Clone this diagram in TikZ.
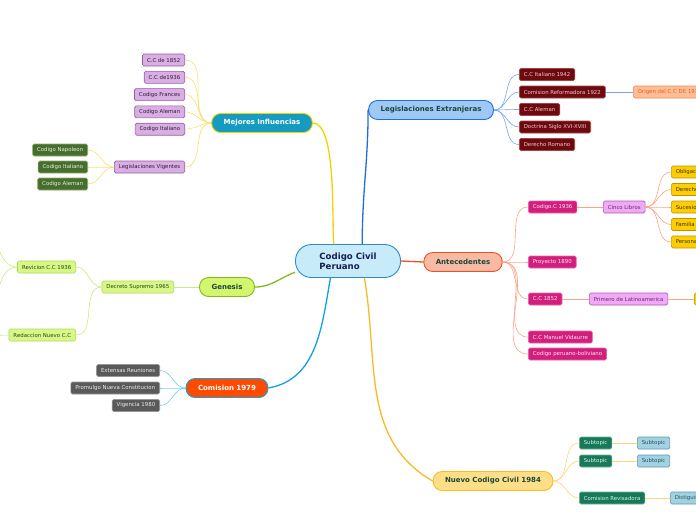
\documentclass[tikz,border=0pt]{standalone}
\usepackage{fontspec}
\setmainfont{DejaVu Sans}
\usetikzlibrary{positioning}
% colours of the topics
\definecolor{cus-center}{RGB}{200, 235, 250}
\definecolor{cus-center-d}{RGB}{40, 140, 210}
\definecolor{cus-navy}{RGB}{20, 30, 80}
\definecolor{cus-dark}{RGB}{25, 70, 60}
\definecolor{cus-mej}{RGB}{22, 155, 192}
\definecolor{cus-mej-d}{RGB}{240, 210, 0}
\definecolor{cus-mej-l}{RGB}{245, 225, 110}
\definecolor{cus-leg}{RGB}{160, 200, 245}
\definecolor{cus-leg-d}{RGB}{30, 110, 220}
\definecolor{cus-leg-l}{RGB}{120, 165, 235}
\definecolor{cus-ant}{RGB}{248, 185, 165}
\definecolor{cus-ant-d}{RGB}{240, 80, 30}
\definecolor{cus-ant-l}{RGB}{250, 165, 135}
\definecolor{cus-nue}{RGB}{255, 222, 135}
\definecolor{cus-nue-d}{RGB}{250, 185, 40}
\definecolor{cus-nue-l}{RGB}{255, 212, 125}
\definecolor{cus-com}{RGB}{255, 75, 0}
\definecolor{cus-com-d}{RGB}{20, 160, 225}
\definecolor{cus-com-l}{RGB}{120, 205, 245}
\definecolor{cus-gen}{RGB}{212, 245, 110}
\definecolor{cus-gen-d}{RGB}{130, 185, 30}
\definecolor{cus-gen-l}{RGB}{205, 232, 130}
% colours of the subtopics
\definecolor{cus-pur}{RGB}{215, 175, 225}
\definecolor{cus-pur-d}{RGB}{150, 90, 170}
\definecolor{cus-pur-t}{RGB}{60, 20, 70}
\definecolor{cus-grn}{RGB}{70, 110, 45}
\definecolor{cus-grn-d}{RGB}{140, 170, 110}
\definecolor{cus-grn-t}{RGB}{230, 240, 220}
\definecolor{cus-lgr}{RGB}{215, 248, 135}
\definecolor{cus-lgr-d}{RGB}{170, 220, 90}
\definecolor{cus-lgr-t}{RGB}{40, 70, 20}
\definecolor{cus-gry}{RGB}{90, 90, 90}
\definecolor{cus-gry-d}{RGB}{150, 150, 150}
\definecolor{cus-gry-t}{RGB}{235, 235, 235}
\definecolor{cus-red}{RGB}{110, 10, 15}
\definecolor{cus-red-d}{RGB}{160, 70, 70}
\definecolor{cus-red-t}{RGB}{240, 200, 200}
\definecolor{cus-ori}{RGB}{255, 190, 150}
\definecolor{cus-ori-d}{RGB}{240, 130, 90}
\definecolor{cus-ori-t}{RGB}{240, 90, 40}
\definecolor{cus-mag}{RGB}{210, 30, 125}
\definecolor{cus-mag-d}{RGB}{230, 100, 170}
\definecolor{cus-mag-t}{RGB}{255, 230, 245}
\definecolor{cus-pnk}{RGB}{240, 170, 245}
\definecolor{cus-pnk-d}{RGB}{170, 90, 180}
\definecolor{cus-pnk-t}{RGB}{110, 40, 120}
\definecolor{cus-yel}{RGB}{255, 205, 0}
\definecolor{cus-yel-d}{RGB}{190, 150, 0}
\definecolor{cus-yel-t}{RGB}{60, 50, 0}
\definecolor{cus-tea}{RGB}{25, 120, 90}
\definecolor{cus-tea-d}{RGB}{100, 180, 150}
\definecolor{cus-tea-t}{RGB}{210, 245, 230}
\definecolor{cus-sky}{RGB}{160, 210, 225}
\definecolor{cus-sky-d}{RGB}{100, 150, 170}
\definecolor{cus-sky-t}{RGB}{50, 80, 100}

\begin{document}
\begin{tikzpicture}[x=1pt,y=-1pt,
	topic/.style={rounded corners=9pt, minimum height=19pt, inner xsep=12pt, inner ysep=0pt, line width=0.9pt, font=\fontsize{7}{8}\selectfont\bfseries},
	sub/.style={rounded corners=1.5pt, minimum height=12pt, inner xsep=4.5pt, inner ysep=0pt, line width=0.6pt, font=\fontsize{5.4}{6}\selectfont},
	pur/.style={sub, fill=cus-pur, draw=cus-pur-d, text=cus-pur-t},
	grn/.style={sub, fill=cus-grn, draw=cus-grn-d, text=cus-grn-t},
	lgr/.style={sub, fill=cus-lgr, draw=cus-lgr-d, text=cus-lgr-t},
	gry/.style={sub, fill=cus-gry, draw=cus-gry-d, text=cus-gry-t},
	redbox/.style={sub, fill=cus-red, draw=cus-red-d, text=cus-red-t},
	ori/.style={sub, fill=cus-ori, draw=cus-ori-d, text=cus-ori-t},
	mag/.style={sub, fill=cus-mag, draw=cus-mag-d, text=cus-mag-t},
	pnk/.style={sub, fill=cus-pnk, draw=cus-pnk-d, text=cus-pnk-t},
	yel/.style={sub, fill=cus-yel, draw=cus-yel-d, text=cus-yel-t},
	tea/.style={sub, fill=cus-tea, draw=cus-tea-d, text=cus-tea-t},
	sky/.style={sub, fill=cus-sky, draw=cus-sky-d, text=cus-sky-t},
	branch/.style={line width=1.3pt},
	twig/.style={line width=0.6pt}]
	
\useasboundingbox (0,0) rectangle (696,520);
\clip (0,0) rectangle (696,520);

% central topic
\node [rounded corners=16pt, minimum width=105pt, minimum height=33pt, fill=cus-center, draw=cus-center-d, line width=0.9pt, text=cus-navy, align=left, font=\fontsize{8.6}{10}\selectfont\bfseries] (cp) at (348,261) {Codigo Civil\\Peruano};

% main topics
\node [topic, fill=cus-mej, draw=cus-mej-d, text=white] (mej) at (262,123) {Mejores Influencias};
\node [topic, fill=cus-leg, draw=cus-leg-d, text=cus-dark] (leg) at (431,110) {Legislaciones Extranjeras};
\node [topic, fill=cus-ant, draw=cus-ant-d, text=cus-dark] (ant) at (463,262) {Antecedentes};
\node [topic, fill=cus-nue, draw=cus-nue-d, text=cus-dark] (nue) at (493,481) {Nuevo Codigo Civil 1984};
\node [topic, fill=cus-com, draw=cus-com-d, text=white] (com) at (227,388) {Comision 1979};
\node [topic, fill=cus-gen, draw=cus-gen-d, text=cus-dark] (gen) at (227,287) {Genesis};

\draw [branch, cus-mej-d] (cp.130) to[out=95,in=0,looseness=0.5] (mej.east);
\draw [branch, cus-leg-d] (cp.50) to[out=90,in=-90] (leg.west);
\draw [branch, cus-ant-d] (cp.east) -- (ant.west);
\draw [branch, cus-nue-d] (cp.-46) to[out=-80,in=150] (nue.west);
\draw [branch, cus-com-d] (cp.-136) to[out=-100,in=10] (com.east);
\draw [branch, cus-gen-d] (cp.192) to[out=200,in=0] (gen.east);

% Mejores Influencias
\foreach \t [count=\i] in {C.C de 1852,C.C de1936,Codigo Frances,Codigo Aleman,Codigo Italiano}{
	\node [pur, anchor=east] (mej\i) at (185,42.7+17.3*\i) {\t};
	\draw [twig, cus-mej-l] (mej.west) to[out=180,in=0] (mej\i.east);
}
\node [pur, anchor=east] (lv) at (185,167) {Legislaciones Vigentes};
\draw [twig, cus-mej-l] (mej.west) to[out=180,in=0] (lv.east);
\foreach \t [count=\i] in {Codigo Napoleon,Codigo Italiano,Codigo Aleman}{
	\node [grn, anchor=east] (lv\i) at (88,133+17*\i) {\t};
	\draw [twig, cus-mej-l] (lv.west) to[out=180,in=0] (lv\i.east);
}

% Genesis
\node [lgr, anchor=east] (dec) at (174,287) {Decreto Supremo 1965};
\node [lgr, anchor=east] (rev) at (76,267) {Revicion C.C 1936};
\node [lgr, anchor=east] (red) at (76,335) {Redaccion Nuevo C.C};
\coordinate (revA) at (-22,228);
\coordinate (revB) at (-22,318);
\coordinate (redA) at (-22,336);
\draw [twig, cus-gen-l] (gen.west) -- (dec.east);
\draw [twig, cus-gen-l] (dec.west) to[out=180,in=0] (rev.east);
\draw [twig, cus-gen-l] (dec.west) to[out=180,in=0] (red.east);
\draw [twig, cus-gen-l] (rev.west) to[out=180,in=0] (revA);
\draw [twig, cus-gen-l] (rev.west) to[out=180,in=0] (revB);
\draw [twig, cus-gen-l] (red.west) -- (redA);

% Comision 1979
\foreach \t [count=\i] in {Extensas Reuniones,Promulgo Nueva Constitucion,Vigencia 1980}{
	\node [gry, anchor=east] (com\i) at (160,353+17.5*\i) {\t};
	\draw [twig, cus-com-l] (com.west) to[out=180,in=0] (com\i.east);
}

% Legislaciones Extranjeras
\foreach \t [count=\i] in {C.C Italiano 1942,Comision Reformadora 1922,C.C Aleman,Doctrina Siglo XVI-XVIII,Derecho Romano}{
	\node [redbox, anchor=west] (leg\i) at (519,57+17.5*\i) {\t};
	\draw [twig, cus-leg-l] (leg.east) to[out=0,in=180] (leg\i.west);
}
\node [ori, anchor=west] (ori) at (633,92) {Origen del C.C DE 1936};
\draw [twig, cus-leg-l] (leg2.east) -- (ori.west);

% Antecedentes
\node [mag, anchor=west] (a36) at (528,207) {Codigo.C 1936};
\node [mag, anchor=west] (a90) at (528,262) {Proyecto 1890};
\node [mag, anchor=west] (a52) at (528,299) {C.C 1852};
\node [mag, anchor=west] (avi) at (528,337) {C.C Manuel Vidaurre};
\node [mag, anchor=west] (apb) at (528,354) {Codigo peruano-boliviano};
\foreach \n in {a36,a90,a52,avi,apb}
	\draw [twig, cus-ant-l] (ant.east) to[out=0,in=180] (\n.west);
\node [pnk, anchor=west] (cinco) at (603,207) {Cinco Libros};
\draw [twig, cus-ant-l] (a36.east) -- (cinco.west);
\foreach \t [count=\i] in {Obligaciones,Derechos Reales,Sucesiones,Familia,Personas}{
	\node [yel, anchor=west] (lib\i) at (671,154.5+17.5*\i) {\t};
	\draw [twig, cus-ant-l] (cinco.east) to[out=0,in=180] (lib\i.west);
}
\node [pnk, anchor=west] (prim) at (589,299) {Primero de Latinoamerica};
\node [yel, anchor=west, minimum width=30pt] (lat) at (694,299) {};
\draw [twig, cus-ant-l] (a52.east) -- (prim.west);
\draw [twig, cus-ant-l] (prim.east) -- (lat.west);

% Nuevo Codigo Civil 1984
\node [tea, anchor=west] (nue1) at (579,443) {Subtopic};
\node [tea, anchor=west] (nue2) at (579,461) {Subtopic};
\node [tea, anchor=west] (nue3) at (579,498) {Comision Revisadora};
\node [sky, anchor=west] (nue1b) at (637,443) {Subtopic};
\node [sky, anchor=west] (nue2b) at (637,461) {Subtopic};
\node [sky, anchor=west] (nue3b) at (670,498) {Distiguir};
\foreach \i in {1,2,3}{
	\draw [twig, cus-nue-l] (nue.east) to[out=0,in=180] (nue\i.west);
	\draw [twig, cus-nue-l] (nue\i.east) -- (nue\i b.west);
}

\end{tikzpicture}
\end{document}
